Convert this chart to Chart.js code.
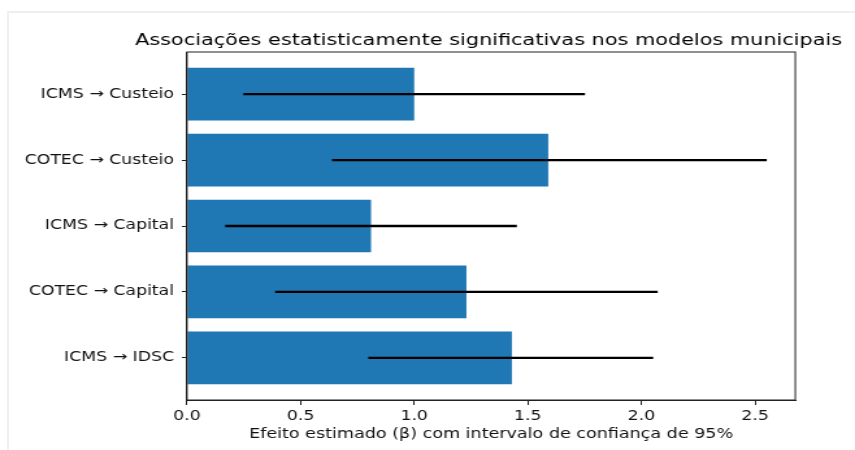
<!DOCTYPE html>
<html>
<head>
<meta charset="utf-8">
<script src="https://cdn.jsdelivr.net/npm/chart.js@4"></script>
<style>
  html, body { margin: 0; padding: 0; background: #fff; }
  #wrap { position: relative; width: 855px; height: 450px; overflow: hidden; }
  #frame { position: absolute; left: 7px; top: 11px; right: 0; bottom: 0;
           border-left: 2px solid #efefef; border-top: 2px solid #efefef; }
</style>
</head>
<body>
<div id="wrap">
  <div id="frame"></div>
  <!-- the reference is a stretched matplotlib figure, so the canvas is drawn narrower and widened by css -->
  <canvas id="c" width="658" height="450" style="position:absolute;left:0;top:0;width:855px;height:450px;"></canvas>
</div>
<script>
// chart data (top row first)
const categories = ['ICMS → Custeio', 'COTEC → Custeio', 'ICMS → Capital', 'COTEC → Capital', 'ICMS → IDSC'];
const betas  = [1.00, 1.59, 0.81, 1.23, 1.43];
const ciLow  = [0.25, 0.64, 0.17, 0.39, 0.80];
const ciHigh = [1.75, 2.55, 1.45, 2.07, 2.05];
const xTicks = [0, 0.5, 1.0, 1.5, 2.0, 2.5];

const chartTitle = 'Associações estatisticamente significativas nos modelos municipais';
const xTitle = 'Efeito estimado (β) com intervalo de confiança de 95%';

const STRETCH = 855 / 658;
const FONT = 'DejaVu Sans';

// box around the plot area, like matplotlib spines
const framePlugin = {
    id: 'frameBox',
    afterDraw(chart) {
        const { ctx, chartArea: a } = chart;
        ctx.save();
        ctx.strokeStyle = '#222';
        ctx.lineWidth = 1;
        ctx.strokeRect(a.left, a.top, a.right - a.left, a.bottom - a.top);
        ctx.restore();
    }
};

// title centred over the plot area but allowed to run past it (matplotlib style)
const axesTitlePlugin = {
    id: 'axesTitle',
    afterDraw(chart) {
        const { ctx, chartArea: a } = chart;
        ctx.save();
        ctx.fillStyle = '#000';
        ctx.font = `16px "${FONT}"`;
        ctx.textAlign = 'center';
        ctx.textBaseline = 'alphabetic';
        ctx.fillText(chartTitle, (a.left + a.right) / 2 - 2, a.top - 7);
        ctx.restore();
    }
};

const ctx = document.getElementById('c').getContext('2d');

new Chart(ctx, {
    type: 'bar',
    data: {
        datasets: [
            {
                label: 'IC 95%',
                data: categories.map((c, i) => ({ x: [ciLow[i], ciHigh[i]], y: i })),
                backgroundColor: '#000',
                barThickness: 1.7,
                grouped: false,
                order: 0
            },
            {
                label: 'β',
                data: categories.map((c, i) => ({ x: betas[i], y: i })),
                backgroundColor: '#1f77b4',
                barPercentage: 0.8,
                categoryPercentage: 1.0,
                grouped: false,
                order: 1
            }
        ]
    },
    options: {
        indexAxis: 'y',
        responsive: false,
        animation: false,
        events: [],
        layout: { padding: { left: 0, right: 59.7 / STRETCH, top: 52, bottom: 0 } },
        plugins: {
            legend: { display: false },
            tooltip: { enabled: false },
            title: { display: false }
        },
        scales: {
            x: {
                type: 'linear',
                min: 0,
                max: Math.max(...ciHigh) * 1.05,
                afterBuildTicks: axis => { axis.ticks = xTicks.map(v => ({ value: v })); },
                afterFit: axis => { axis.height = 50; },
                grid: { display: true, drawOnChartArea: false, drawTicks: true, tickLength: 5, color: '#222' },
                border: { display: true, color: '#222' },
                ticks: {
                    color: '#111',
                    padding: 4,
                    font: { family: FONT, size: 13.3 },
                    callback: v => v.toFixed(1)
                },
                title: {
                    display: true,
                    text: xTitle,
                    color: '#111',
                    font: { family: FONT, size: 13.5 },
                    padding: { top: 0, bottom: 7 }
                }
            },
            y: {
                type: 'linear',
                reverse: true,
                offset: false,
                min: -0.64,
                max: categories.length - 1 + 0.64,
                afterBuildTicks: axis => { axis.ticks = categories.map((c, i) => ({ value: i })); },
                afterFit: axis => { axis.width = 187 / STRETCH; },
                grid: { display: true, offset: false, drawOnChartArea: false, drawTicks: true, tickLength: 4, color: '#222' },
                border: { display: true, color: '#222' },
                ticks: {
                    color: '#111',
                    padding: 6,
                    font: { family: FONT, size: 13.3 },
                    callback: v => categories[v]
                }
            }
        }
    },
    plugins: [framePlugin, axesTitlePlugin]
});
</script>
</body>
</html>
